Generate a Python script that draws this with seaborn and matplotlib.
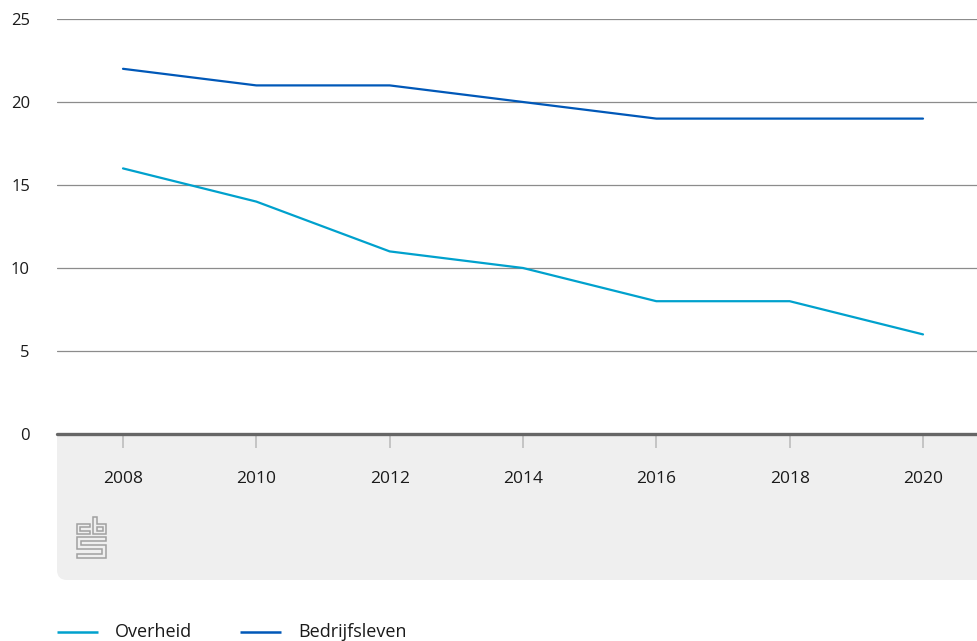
import matplotlib
matplotlib.use("Agg")
import matplotlib.pyplot as plt
import seaborn as sns
import pandas as pd
from matplotlib.patches import FancyBboxPatch, Rectangle, Polygon

years = [2008, 2010, 2012, 2014, 2016, 2018, 2020]
overheid = [16, 14, 11, 10, 8, 8, 6]
bedrijfsleven = [22, 21, 21, 20, 19, 19, 19]
series_names = ["Overheid", "Bedrijfsleven"]
colors = ["#00a1cd", "#0058b8"]
yticks = [0, 5, 10, 15, 20, 25]

df = pd.DataFrame({"jaar": years * 2,
                   "waarde": overheid + bedrijfsleven,
                   "reeks": [series_names[0]] * len(years) + [series_names[1]] * len(years)})

sns.set_style("white")
plt.rcParams['font.family'] = ['Open Sans', 'DejaVu Sans']

W, H = 977, 641
fig = plt.figure(figsize=(W / 100, H / 100), dpi=100)

# background axes in pixel coordinates
bg = fig.add_axes([0, 0, 1, 1], zorder=-1)
bg.set_xlim(0, W)
bg.set_ylim(H, 0)
bg.axis("off")
bg.add_patch(FancyBboxPatch((57, 434), W - 57 + 30, 580 - 434,
                            boxstyle="round,pad=0,rounding_size=10",
                            facecolor="#efefef", edgecolor="none"))
bg.add_patch(Rectangle((57, 434), W - 57 + 30, 60, facecolor="#efefef", edgecolor="none"))

logo_col = "#a0a0a0"
logo_polys = [
    [(77, 524), (90, 524), (90, 527), (80, 527), (80, 531), (90, 531), (90, 534), (77, 534)],
    [(93, 517), (97, 517), (97, 524), (106, 524), (106, 534), (93, 534)],
    [(97, 527), (103, 527), (103, 531), (97, 531)],
    [(77, 537), (106, 537), (106, 541), (81, 541), (81, 545), (106, 545), (106, 558),
     (77, 558), (77, 554), (102, 554), (102, 549), (77, 549)],
]
for p in logo_polys:
    bg.add_patch(Polygon(p, closed=True, fill=False, edgecolor=logo_col, linewidth=1.1))

# legend drawn manually
leg_y = 632
leg_items = [(57, 98, 115), (240, 281, 298)]
for (x0, x1, tx), name, c in zip(leg_items, series_names, colors):
    bg.plot([x0, x1], [leg_y, leg_y], color=c, linewidth=1.8, solid_capstyle="butt")
    bg.text(tx, leg_y, name, fontsize=13, color="#1a1a1a", va="center", ha="left")

ax = fig.add_axes([57 / W, (H - 434) / H, 1 - 57 / W, (434 - 19) / H])
sns.lineplot(data=df, x="jaar", y="waarde", hue="reeks", palette=colors,
             hue_order=series_names, linewidth=1.6, ax=ax, legend=False)

ax.set_xlim(2007.01, 2020.81)
ax.set_ylim(0, 25)
ax.set_yticks(yticks)
ax.set_xticks(years)
ax.set_facecolor("none")
for s in ax.spines.values():
    s.set_visible(False)
for y in yticks[1:]:
    ax.axhline(y, color="#8c8c8c", linewidth=0.9, zorder=0)
ax.axhline(0, color="#666666", linewidth=2.4, zorder=3, clip_on=False)
ax.tick_params(axis="y", length=0, pad=19.5, labelsize=12, labelcolor="#1a1a1a")
for lab in ax.get_yticklabels():
    lab.set_horizontalalignment("right")
ax.tick_params(axis="x", length=10, width=1.2, color="#bdbdbd", pad=16.5, labelsize=12.5,
               labelcolor="#1a1a1a", direction="out", bottom=True)
ax.set_xlabel("")
ax.set_ylabel("")

fig.savefig("out.png", dpi=100)
